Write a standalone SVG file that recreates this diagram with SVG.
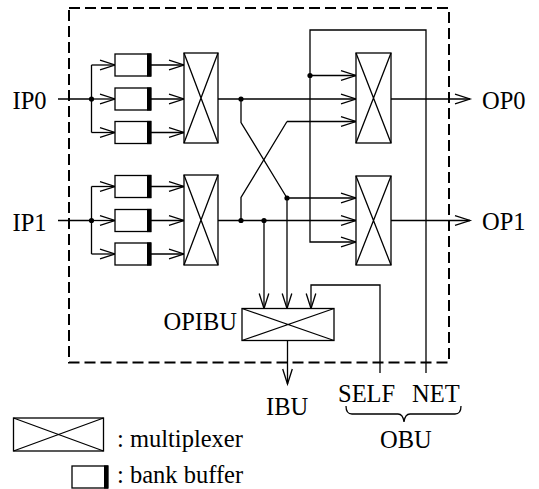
<svg xmlns="http://www.w3.org/2000/svg" width="539" height="489" viewBox="0 0 539 489">
<style>
.ln{fill:none;stroke:#000;stroke-width:1.3}
.arr{fill:none;stroke:#000;stroke-width:1.3;marker-end:url(#ah)}
.box{fill:#fff;stroke:#000;stroke-width:1.3}
.bar{fill:#000}
.dot{fill:#000}
.t{font-family:"Liberation Serif","Times New Roman",serif;font-size:24.5px;fill:#000}
.dash{fill:none;stroke:#000;stroke-width:2;stroke-dasharray:11 5}
</style>
<defs>
<marker id="ah" markerUnits="userSpaceOnUse" markerWidth="20" markerHeight="12" viewBox="-16 -6 20 12" refX="0" refY="0" orient="auto">
<path d="M-15,-4.8 L0,0 L-15,4.8" fill="none" stroke="#000" stroke-width="1.3"/>
</marker>
<g id="buf"><rect class="box" x="0" y="-11" width="36" height="22"/><rect class="bar" x="32" y="-11.6" width="4" height="23.2"/></g>
</defs>
<rect width="539" height="489" fill="#fff"/>
<rect id="boundary" class="dash" x="69" y="8" width="380" height="354.5"/>

<g id="connectors">
<path class="ln" d="M58,99 H91.5"/>
<path class="ln" d="M91.5,65 V132.5"/>
<path class="arr" d="M91.5,65 H115"/>
<path class="arr" d="M91.5,99 H115"/>
<path class="arr" d="M91.5,132.5 H115"/>
<path class="arr" d="M151,65 H184"/>
<path class="arr" d="M151,99 H184"/>
<path class="arr" d="M151,132.5 H184"/>
<path class="ln" d="M58,220.5 H91.5"/>
<path class="ln" d="M91.5,186.5 V254"/>
<path class="arr" d="M91.5,186.5 H115"/>
<path class="arr" d="M91.5,220.5 H115"/>
<path class="arr" d="M91.5,254 H115"/>
<path class="arr" d="M151,186.5 H184"/>
<path class="arr" d="M151,220.5 H184"/>
<path class="arr" d="M151,254 H184"/>
<path class="arr" d="M218,99 H356"/>
<path class="arr" d="M218,220.5 H356"/>
<path class="ln" d="M241,99 V122.5 L287,198"/>
<path class="arr" d="M287,198 H356"/>
<path class="arr" d="M287,198 V308.5"/>
<path class="ln" d="M241,220.5 V197.5 L287,121.5"/>
<path class="arr" d="M287,121.5 H356"/>
<path class="arr" d="M264,220.5 V308.5"/>
<path class="arr" d="M426,373 V30 H310 V242 H356"/>
<path class="arr" d="M310,75.5 H356"/>
<path class="arr" d="M380,373 V285 H311 V308.5"/>
<path class="arr" d="M287.5,340.5 V384"/>
<path class="arr" d="M391,99 H470"/>
<path class="arr" d="M391,220.5 H470"/>
<circle class="dot" cx="91.5" cy="99" r="2.6"/>
<circle class="dot" cx="91.5" cy="220.5" r="2.6"/>
<circle class="dot" cx="241" cy="99" r="2.6"/>
<circle class="dot" cx="241" cy="220.5" r="2.6"/>
<circle class="dot" cx="264" cy="220.5" r="2.6"/>
<circle class="dot" cx="287" cy="198" r="2.6"/>
<circle class="dot" cx="310" cy="75.5" r="2.6"/>
<path class="ln" d="M346,406 Q346,414 352,414 H398 Q403,414 404,422 Q405,414 410,414 H455 Q461,414 461,406"/>
</g>

<g id="buf0a"><use href="#buf" x="115" y="65"/></g>
<g id="buf0b"><use href="#buf" x="115" y="99"/></g>
<g id="buf0c"><use href="#buf" x="115" y="132.5"/></g>
<g id="buf1a"><use href="#buf" x="115" y="186.5"/></g>
<g id="buf1b"><use href="#buf" x="115" y="220.5"/></g>
<g id="buf1c"><use href="#buf" x="115" y="254"/></g>

<g id="mux-in0"><rect class="box" x="184" y="53" width="34" height="90"/><path class="ln" d="M184,143 L218,53 M184,53 L218,143"/></g>
<g id="mux-in1"><rect class="box" x="184" y="175" width="34" height="90"/><path class="ln" d="M184,265 L218,175 M184,175 L218,265"/></g>
<g id="mux-op0"><rect class="box" x="356" y="53" width="35" height="90"/><path class="ln" d="M356,143 L391,53 M356,53 L391,143"/></g>
<g id="mux-op1"><rect class="box" x="356" y="176" width="35" height="89"/><path class="ln" d="M356,265 L391,176 M356,176 L391,265"/></g>
<g id="mux-opibu"><rect class="box" x="242" y="308.5" width="92" height="32"/><path class="ln" d="M242,340.5 L334,308.5 M242,308.5 L334,340.5"/></g>

<g id="labels">
<text class="t" x="12.5" y="109">IP0</text>
<text class="t" x="12.5" y="230.5">IP1</text>
<text class="t" x="482" y="108.5">OP0</text>
<text class="t" x="482" y="230">OP1</text>
<text class="t" x="237" y="329.5" text-anchor="end">OPIBU</text>
<text class="t" x="266" y="414.5">IBU</text>
<text class="t" x="338" y="402">SELF</text>
<text class="t" x="412" y="402">NET</text>
<text class="t" x="380" y="447.5">OBU</text>
</g>

<g id="legend">
<g id="legend-mux"><rect class="box" x="13.5" y="418" width="90" height="33"/><path class="ln" d="M13.5,451 L103.5,418 M13.5,418 L103.5,451"/></g>
<text class="t" x="117" y="446.5">: multiplexer</text>
<g id="legend-buf"><use href="#buf" x="72" y="477"/></g>
<text class="t" x="117" y="483">: bank buffer</text>
</g>
</svg>
